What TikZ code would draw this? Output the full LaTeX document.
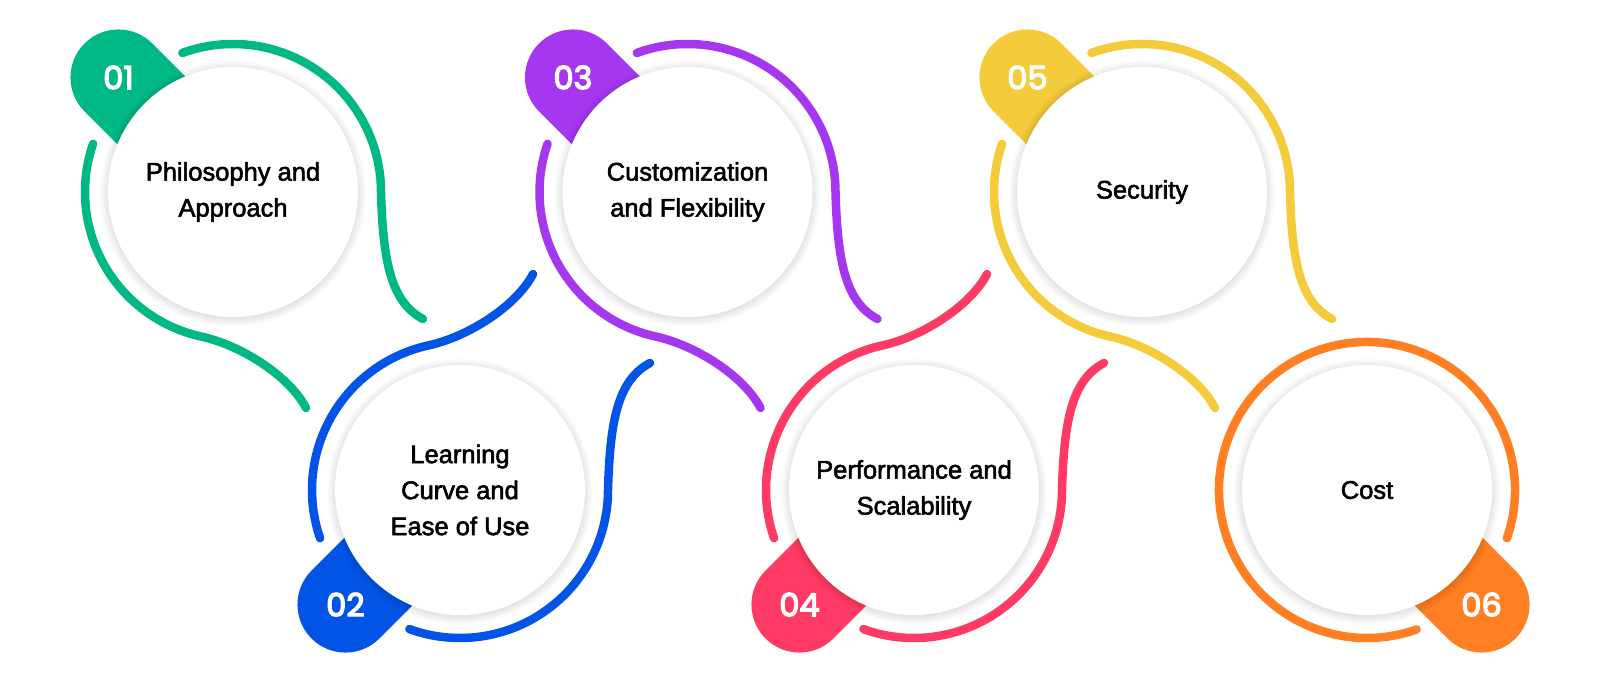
\documentclass[tikz,border=0pt]{standalone}
\usepackage{fontspec}
\setmainfont{Liberation Sans}
\newfontfamily\labelfont{Liberation Sans}[FakeBold=2.2]
\newfontfamily\numfont{Poppins}[FakeBold=4]
\usetikzlibrary{calc}

\definecolor{cgreen}{HTML}{00B884}
\definecolor{cblue}{HTML}{0254E6}
\definecolor{cpurple}{HTML}{A537F1}
\definecolor{cred}{HTML}{FF3B65}
\definecolor{cyellow}{HTML}{F4CB3A}
\definecolor{corange}{HTML}{FF7F22}

\begin{document}
\begin{tikzpicture}[x=1pt,y=1pt,
  ring/.style={line width=8.5pt,line cap=round},
  card/.style={circle,fill=white,minimum size=250pt,inner sep=0pt,align=center,
    font=\labelfont\fontsize{25.5}{36}\selectfont},
  num/.style={text=white,font=\numfont\fontsize{32}{32}\selectfont}]

\useasboundingbox (0,0) rectangle (1600,-682);

\coordinate (p1) at (233,-192);
\coordinate (p2) at (460,-490);
\coordinate (p3) at (687.5,-192);
\coordinate (p4) at (914,-490);
\coordinate (p5) at (1142,-192);
\coordinate (p6) at (1367,-490);

% rings with their tails
\foreach \i/\f/\col in {1/1/cgreen,2/-1/cblue,3/1/cpurple,4/-1/cred,5/1/cyellow}{
  \begin{scope}[shift={(p\i)},yscale=\f]
    \draw[ring,\col] (110:148pt) arc[start angle=110,end angle=0,radius=148pt]
      .. controls (150pt,-70pt) and (158pt,-110pt) .. (190pt,-127pt);
    \draw[ring,\col] (161:148pt) arc[start angle=161,end angle=258,radius=148pt]
      .. controls (10pt,-154pt) and (57pt,-185pt) .. (73pt,-216pt);
  \end{scope}
}
\draw[ring,corange] (p6) ++(-19:148pt) arc[start angle=-19,end angle=289.6,radius=148pt];

% badges
\foreach \i/\a/\col in {1/135/cgreen,2/225/cblue,3/135/cpurple,4/225/cred,5/135/cyellow,6/-45/corange}{
  \begin{scope}[shift={($(p\i)+(\a:162pt)$)},rotate=\a+180]
    \fill[\col] (0,48pt) arc[start angle=90,end angle=270,radius=48pt]
      -- (70pt,-48pt) -- (70pt,48pt) -- cycle;
  \end{scope}
  \node[num] (n\i) at ($(p\i)+(\a:162pt)$) {0\i};
}

% soft shadow under the cards
\foreach \i in {1,...,6}
  \foreach \k in {1,...,9}
    \fill[black,opacity=0.011] ([yshift=-1.5pt]p\i) circle[radius={124pt+\k*1pt}];

\node[card] (t1) at (p1) {Philosophy and\\Approach};
\node[card] (t2) at (p2) {Learning\\Curve and\\Ease of Use};
\node[card] (t3) at (p3) {Customization\\and Flexibility};
\node[card] (t4) at (p4) {Performance and\\Scalability};
\node[card] (t5) at (p5) {Security};
\node[card] (t6) at (p6) {Cost};
\end{tikzpicture}
\end{document}
